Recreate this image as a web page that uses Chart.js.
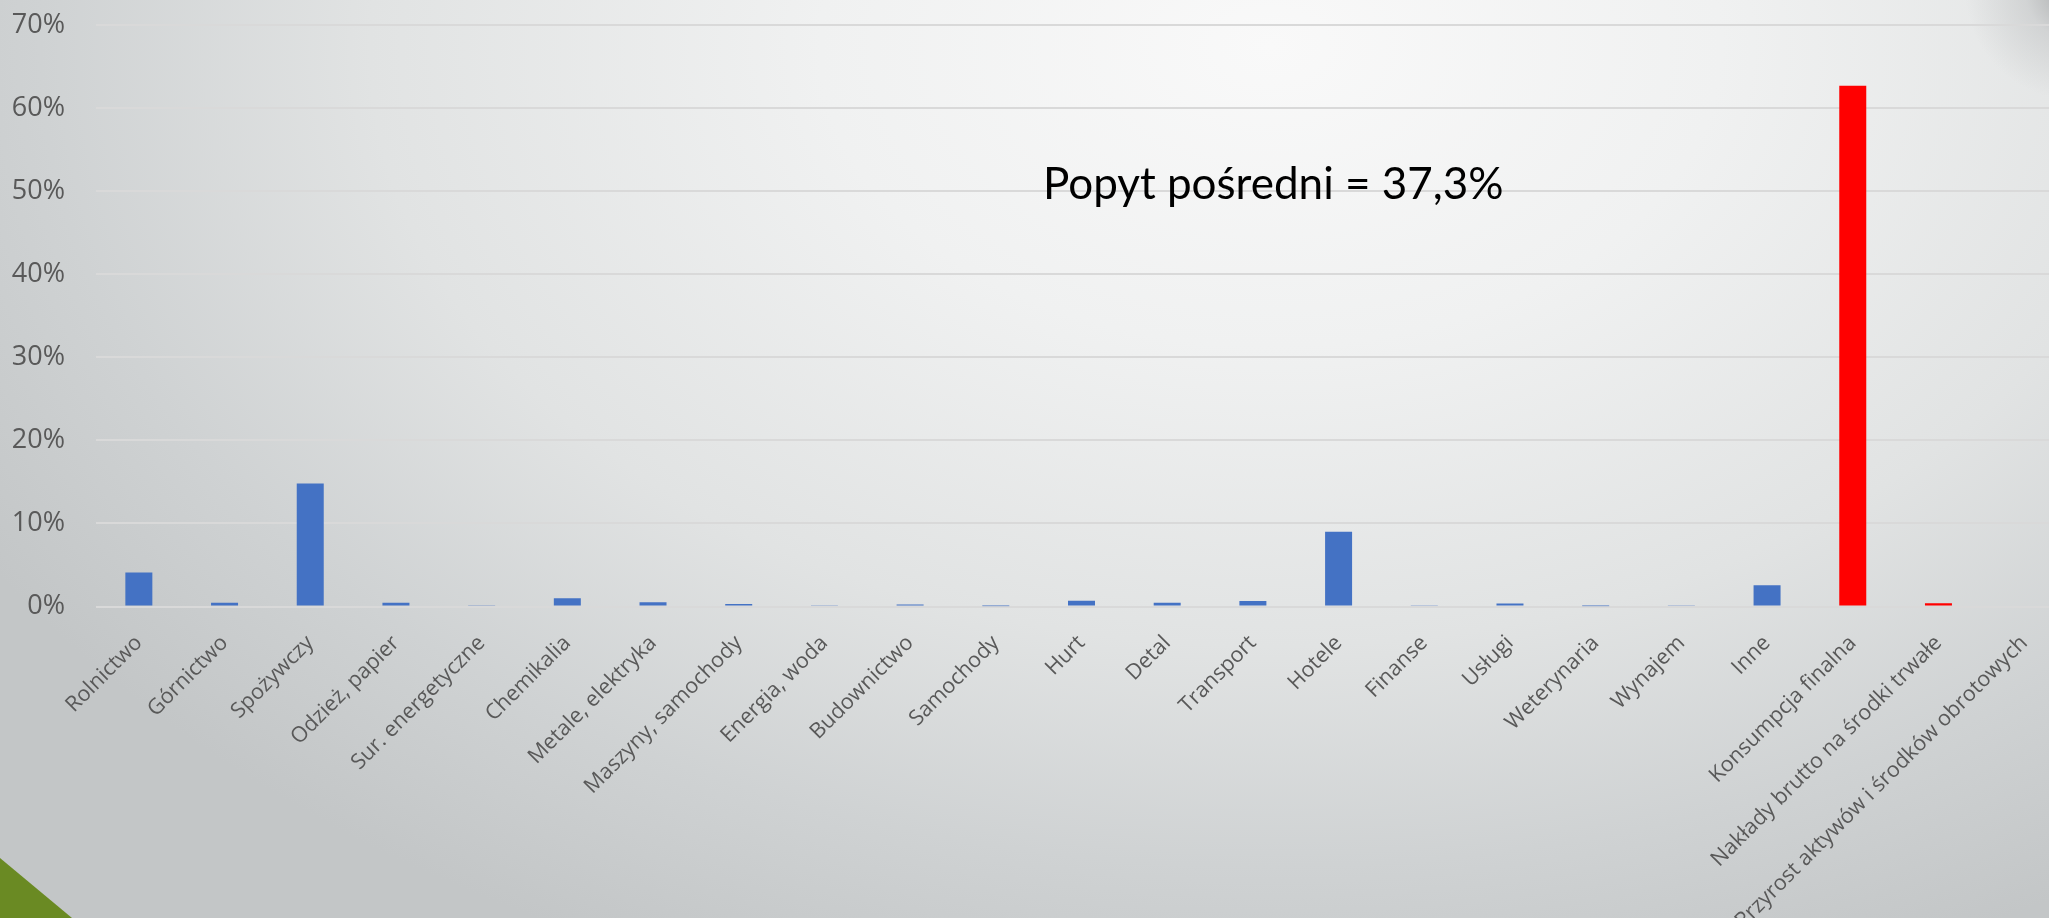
<!DOCTYPE html>
<html lang="pl">
<head>
<meta charset="utf-8">
<title>Struktura popytu</title>
<script src="https://cdn.jsdelivr.net/npm/chart.js@4.4.1/dist/chart.umd.min.js"></script>
<style>
    html, body {
        margin: 0;
        padding: 0;
        width: 2049px;
        height: 918px;
        overflow: hidden;
    }
    body {
        position: relative;
        background:
            radial-gradient(circle at 2075px -10px, rgba(160, 162, 163, 0.9) 0px, rgba(190, 192, 193, 0.5) 50px, rgba(220, 222, 222, 0) 110px),
            radial-gradient(ellipse 1500px 1000px at 62% 5%, #f9f9f9 0%, #f0f1f1 30%, #e1e3e3 60%, #cfd2d3 82%, #c3c6c7 100%);
    }
    /* zielony trójkąt w lewym dolnym rogu */
    .corner {
        position: absolute;
        left: 0;
        bottom: 0;
        width: 72px;
        height: 60px;
        background: #6a8a23;
        clip-path: polygon(0 0, 100% 100%, 0 100%);
    }
    .chart-box {
        position: absolute;
        top: 0;
        left: 0;
        width: 2080px;
        height: 918px;
    }
</style>
</head>
<body>
<div class="corner"></div>
<div class="chart-box">
    <canvas id="demandChart"></canvas>
</div>

<script>
// Kategorie (sektory + popyt finalny)
const categories = [
    'Rolnictwo', 'Górnictwo', 'Spożywczy', 'Odzież, papier', 'Sur. energetyczne',
    'Chemikalia', 'Metale, elektryka', 'Maszyny, samochody', 'Energia, woda', 'Budownictwo',
    'Samochody', 'Hurt', 'Detal', 'Transport', 'Hotele',
    'Finanse', 'Usługi', 'Weterynaria', 'Wynajem', 'Inne',
    'Konsumpcja finalna', 'Nakłady brutto na środki trwałe', 'Przyrost aktywów i środków obrotowych'
];

// Udział w popycie, w %
const shares = [
    4.1, 0.45, 14.8, 0.45, 0.16,
    1.0, 0.5, 0.3, 0.1, 0.25,
    0.02, 0.7, 0.45, 0.65, 9.0,
    0.1, 0.35, 0.02, 0.15, 2.55,
    62.7, 0.4, 0
];

// true = popyt finalny (czerwone słupki)
const isFinal = [
    false, false, false, false, false,
    false, false, false, false, false,
    false, false, false, false, false,
    false, false, false, false, false,
    true, true, true
];

const yTicks = [0, 10, 20, 30, 40, 50, 60, 70];

const noteText = 'Popyt pośredni = 37,3%';

const BLUE = '#4472c4';
const RED = '#ff0000';

// Napis z sumą popytu pośredniego
const notePlugin = {
    id: 'note',
    afterDatasetsDraw(chart) {
        const ctx = chart.ctx;
        const x = chart.scales.x.getPixelForValue(10.55);
        const y = chart.scales.y.getPixelForValue(49);
        ctx.save();
        ctx.font = '44px Lato';
        ctx.fillStyle = '#000000';
        ctx.textAlign = 'left';
        ctx.textBaseline = 'alphabetic';
        ctx.fillText(noteText, x, y);
        ctx.restore();
    }
};

new Chart(document.getElementById('demandChart'), {
    type: 'bar',
    data: {
        labels: categories,
        datasets: [{
            data: shares,
            backgroundColor: isFinal.map(f => f ? RED : BLUE),
            borderWidth: 0,
            categoryPercentage: 1,
            barPercentage: 0.315
        }]
    },
    options: {
        responsive: true,
        maintainAspectRatio: false,
        animation: false,
        layout: {
            padding: { top: 25, right: 13, bottom: 0, left: 0 }
        },
        plugins: {
            legend: { display: false },
            tooltip: { enabled: false }
        },
        scales: {
            x: {
                grid: { display: false },
                border: { display: false },
                ticks: {
                    color: '#595959',
                    font: { family: 'Open Sans', size: 21.5 },
                    minRotation: 45,
                    maxRotation: 45,
                    autoSkip: false,
                    padding: 16
                },
                afterFit(scale) {
                    scale.height = 311.5;
                }
            },
            y: {
                min: 0,
                max: 70,
                grid: {
                    color: '#d9d9d9',
                    lineWidth: 2,
                    drawTicks: false
                },
                border: { display: false },
                afterBuildTicks(scale) {
                    scale.ticks = yTicks.map(v => ({ value: v }));
                },
                ticks: {
                    color: '#595959',
                    font: { family: 'Open Sans', size: 27 },
                    padding: 31,
                    callback: v => v + '%'
                },
                afterFit(scale) {
                    // stała szerokość osi, bez dodatkowego marginesu u góry
                    scale.width = 96;
                    scale.paddingTop = 0;
                    scale.paddingBottom = 0;
                }
            }
        }
    },
    plugins: [notePlugin]
});
</script>
</body>
</html>
